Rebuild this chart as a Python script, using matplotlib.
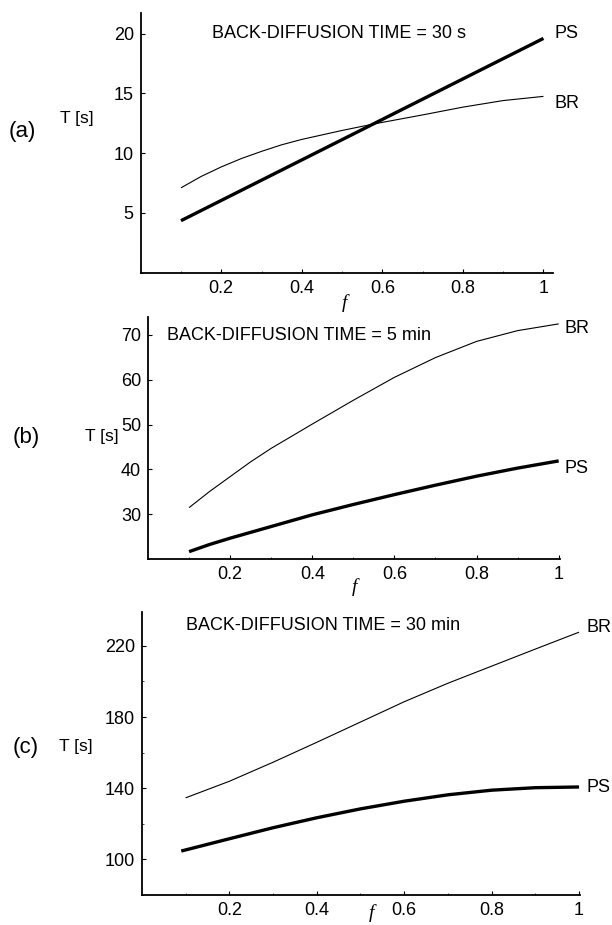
import matplotlib
matplotlib.use("Agg")
import matplotlib.pyplot as plt
from matplotlib.ticker import MultipleLocator

plt.rcParams['font.family'] = ['Liberation Sans', 'DejaVu Sans']

W, H = 612, 925

# ---------------- data ----------------
f_a_ps = [0.1, 1.0]
T_a_ps = [4.35, 19.6]
f_a_br = [0.1, 0.15, 0.2, 0.25, 0.3, 0.35, 0.4, 0.5, 0.58, 0.7, 0.8, 0.9, 1.0]
T_a_br = [7.1, 8.05, 8.85, 9.55, 10.15, 10.7, 11.15, 11.9, 12.45, 13.2, 13.85, 14.4, 14.75]

f_b = [0.1, 0.15, 0.2, 0.25, 0.3, 0.4, 0.5, 0.6, 0.7, 0.8, 0.9, 1.0]
T_b_br = [31.5, 35.1, 38.4, 41.7, 44.7, 50.1, 55.4, 60.5, 64.9, 68.5, 70.9, 72.4]
T_b_ps = [21.7, 23.3, 24.7, 26.0, 27.3, 29.9, 32.2, 34.4, 36.5, 38.5, 40.3, 41.9]

f_c_br = [0.1, 0.2, 0.3, 0.4, 0.5, 0.6, 0.7, 0.8, 0.9, 1.0]
T_c_br = [134.6, 143.9, 154.6, 165.8, 177.2, 188.6, 199.0, 208.6, 218.2, 227.7]
f_c_ps = [0.09, 0.2, 0.3, 0.4, 0.5, 0.6, 0.7, 0.8, 0.9, 1.0]
T_c_ps = [104.7, 111.6, 117.8, 123.4, 128.4, 132.7, 136.3, 138.9, 140.3, 140.7]

x_ticks = [0.2, 0.4, 0.6, 0.8, 1.0]
x_ticklabels = ["0.2", "0.4", "0.6", "0.8", "1"]

titles = ["BACK-DIFFUSION TIME = 30 s", "BACK-DIFFUSION TIME = 5 min", "BACK-DIFFUSION TIME = 30 min"]
panel_labels = ["(a)", "(b)", "(c)"]

# ---------------- figure ----------------
fig = plt.figure(figsize=(W / 100, H / 100), dpi=100)


def fx(px):
    return px / W


def fy(py):
    return 1 - py / H


def make_axes(left, right, top, bottom):
    return fig.add_axes([fx(left), fy(bottom), fx(right) - fx(left), (bottom - top) / H])


def style(ax, xlim, ylim, yticks, yminor):
    ax.set_xlim(*xlim)
    ax.set_ylim(*ylim)
    for s in ['top', 'right']:
        ax.spines[s].set_visible(False)
    for s in ['left', 'bottom']:
        ax.spines[s].set_linewidth(1.3)
        ax.spines[s].set_color('black')
    ax.set_xticks(x_ticks)
    ax.set_xticklabels(x_ticklabels)
    ax.xaxis.set_minor_locator(MultipleLocator(0.1))
    ax.set_yticks(yticks)
    ax.set_yticklabels([str(v) for v in yticks])
    ax.yaxis.set_minor_locator(MultipleLocator(yminor))
    ax.tick_params(which='major', direction='in', length=3, width=0.8, labelsize=13, pad=5)
    ax.tick_params(which='minor', direction='in', length=1.5, width=0.5)
    ax.patch.set_alpha(0)


thin = dict(color='black', lw=0.8, solid_capstyle='butt', solid_joinstyle='round')
thick = dict(color='black', lw=2.4, solid_capstyle='butt', solid_joinstyle='round')
fs = 13
lab_fs = 12.5
pan_fs = 16
f_font = dict(family=['Liberation Serif', 'DejaVu Serif'], style='italic', fontsize=14)

# Panel (a)
ax = make_axes(140.7, 552.7, 13.3, 272.7)
style(ax, (0, 1.023), (0, 21.7), [5, 10, 15, 20], 5)
ax.plot(f_a_br, T_a_br, **thin)
ax.plot(f_a_ps, T_a_ps, **thick)
fig.text(fx(212), fy(34), titles[0], fontsize=fs, ha='left', va='center')
fig.text(fx(555), fy(33), "PS", fontsize=fs, ha='left', va='center')
fig.text(fx(555), fy(103), "BR", fontsize=fs, ha='left', va='center')
fig.text(fx(9), fy(131), panel_labels[0], fontsize=pan_fs, ha='left', va='center')
fig.text(fx(60), fy(119), "T [s]", fontsize=lab_fs, ha='left', va='center')
fig.text(fx(344), fy(303), "f", ha='center', va='center', **f_font)

# Panel (b)
ax = make_axes(148, 559.5, 316.7, 559.3)
style(ax, (0, 1.002), (20, 74), [30, 40, 50, 60, 70], 10)
ax.plot(f_b, T_b_br, **thin)
ax.plot(f_b, T_b_ps, **thick)
fig.text(fx(167), fy(335), titles[1], fontsize=fs, ha='left', va='center')
fig.text(fx(564), fy(329), "BR", fontsize=fs, ha='left', va='center')
fig.text(fx(564), fy(468), "PS", fontsize=fs, ha='left', va='center')
fig.text(fx(13), fy(437), panel_labels[1], fontsize=pan_fs, ha='left', va='center')
fig.text(fx(85), fy(436), "T [s]", fontsize=lab_fs, ha='left', va='center')
fig.text(fx(354), fy(587), "f", ha='center', va='center', **f_font)

# Panel (c)
ax = make_axes(141.9, 579.5, 611.7, 895)
style(ax, (0, 1.001), (80, 239.2), [100, 140, 180, 220], 20)
ax.plot(f_c_br, T_c_br, **thin)
ax.plot(f_c_ps, T_c_ps, **thick)
fig.text(fx(186), fy(625), titles[2], fontsize=fs, ha='left', va='center')
fig.text(fx(586), fy(628), "BR", fontsize=fs, ha='left', va='center')
fig.text(fx(586), fy(787), "PS", fontsize=fs, ha='left', va='center')
fig.text(fx(13), fy(747), panel_labels[2], fontsize=pan_fs, ha='left', va='center')
fig.text(fx(59), fy(746), "T [s]", fontsize=lab_fs, ha='left', va='center')
fig.text(fx(371), fy(913), "f", ha='center', va='center', **f_font)

fig.savefig("out.png", dpi=100, facecolor='white')
